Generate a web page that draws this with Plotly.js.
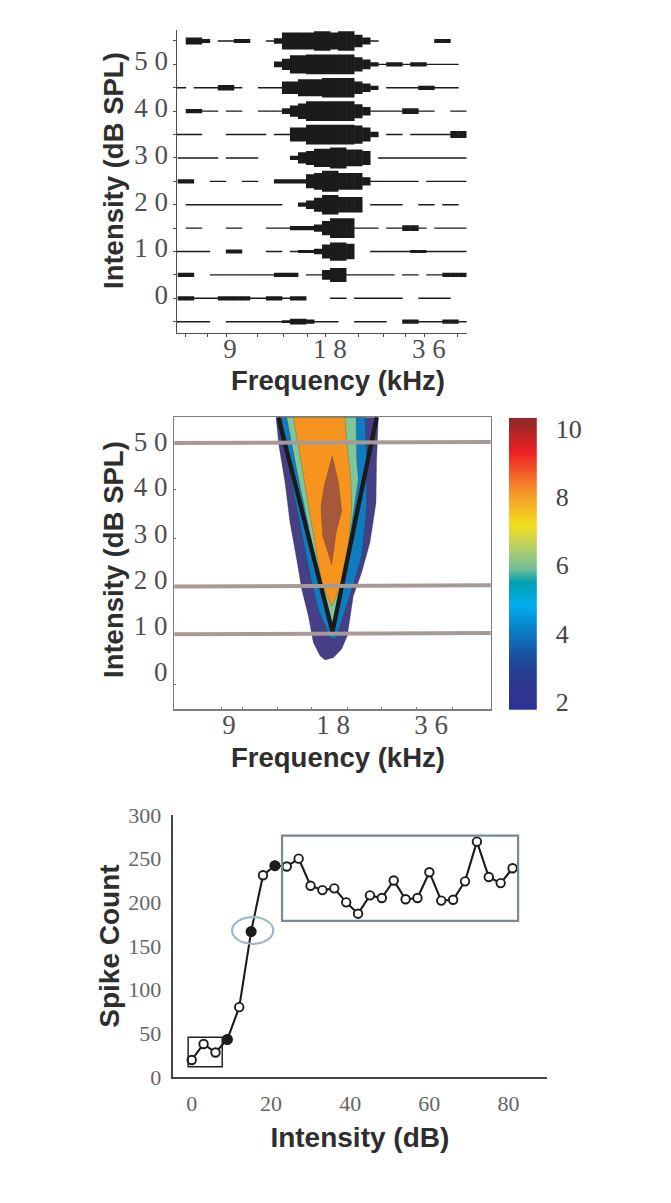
<!DOCTYPE html>
<html>
<head>
<meta charset="utf-8">
<script src="https://cdn.plot.ly/plotly-3.0.1.min.js"></script>
<style>html,body{margin:0;padding:0;background:#fff}</style>
</head>
<body>
<div id="chart" style="width:671px;height:1203px"></div>
<script>
// ---------- Top panel: spike raster-like frequency/intensity map ----------
const cellFreqKHz = [6.250,6.611,6.992,7.396,7.823,8.275,8.752,9.258,9.792,10.357,10.955,11.587,12.256,12.964,13.712,14.504,15.341,16.227,17.163,18.154,19.202,20.311,21.483,22.724,24.035,25.423,26.890,28.443,30.084,31.821,33.658,35.601,37.656,39.830,42.130,44.562,47.134];
const rowIntensity = [55,50,45,40,35,30,25,20,15,10,5,0,-5];
const row55 = [0,0,5,5,3,0,1,1,3,3,0,0,1,4,12,12,12,12,14,14,12,14,14,9,5,1,0,0,0,0,0,0,0,3,3,0,0];
const row50 = [0,0,0,0,0,0,0,0,0,0,0,0,0,4,8,13,13,14,14,14,14,14,14,10,7,3,1,3,3,1,3,3,1,1,1,1,0];
const row45 = [1,1,0,1,1,1,4,4,1,0,0,1,1,1,9,9,12,12,12,14,14,14,14,9,6,3,0,1,1,1,1,3,3,1,1,1,0];
const row40 = [0,0,3,3,1,1,0,1,1,0,0,1,1,1,4,8,11,14,14,14,14,14,14,10,6,1,1,1,1,4,4,1,1,0,0,1,1];
const row35 = [1,1,1,1,0,0,0,1,1,1,1,1,0,1,1,10,10,14,14,14,14,14,14,13,10,4,0,1,1,0,1,1,1,1,1,5,5];
const row30 = [0,1,1,1,1,1,0,1,1,1,1,0,0,0,0,3,8,10,13,13,15,15,12,12,10,0,1,1,1,1,1,1,1,1,1,1,1];
const row25 = [0,3,3,0,0,1,1,0,0,1,1,0,0,3,3,3,3,10,12,15,15,12,12,12,6,1,1,1,1,1,1,0,1,1,1,1,1];
const row20 = [0,0,1,1,1,1,1,1,1,1,1,1,1,1,0,0,3,6,10,14,14,11,11,11,0,1,1,1,1,0,0,1,1,0,1,1,0];
const row15 = [0,0,1,1,0,0,0,1,1,0,0,0,1,1,1,3,3,3,5,10,14,14,14,1,1,1,0,1,1,4,4,1,0,1,1,1,1];
const row10 = [1,1,1,1,1,0,0,3,3,0,0,0,1,1,0,1,2,2,4,10,13,13,11,0,0,1,1,1,1,1,2,2,1,1,1,1,1];
const row5  = [0,3,3,0,0,1,1,1,1,1,1,1,1,3,3,3,0,1,1,7,10,10,1,1,1,1,1,1,0,1,1,0,1,1,3,3,3];
const row0  = [0,3,3,1,1,1,3,3,3,3,1,1,3,3,1,3,3,0,0,0,1,1,0,1,1,1,1,1,1,0,0,1,1,1,1,0,0];
const rowM5 = [1,1,1,1,1,0,0,1,1,1,1,1,1,1,2,4,4,3,1,1,1,0,0,1,1,1,1,0,0,3,3,1,1,1,3,3,1];
const rasterRows = [row55,row50,row45,row40,row35,row30,row25,row20,row15,row10,row5,row0,rowM5];

// ---------- Middle panel: response area bands (octaves re 18 kHz, dB SPL) ----------
const outerOct = [-.564,-.535,-.475,-.426,-.36,-.31,-.244,-.195,-.129,-.079,.003,.086,.142,.201,.284,.366,.426,.432,.449];
const outerDb  = [55.3,49.3,41.6,33.3,25.6,19.3,13.7,8.2,5.4,4.5,5,6.8,9.6,17.9,22.8,29.1,37.4,46.5,55.3];
const blueOct  = [-.508,-.475,-.409,-.343,-.267,-.211,-.145,-.063,-.013,.036,.102,.218,.284,.333,.333,.317];
const blueDb   = [55.3,50,41.6,34.7,27,20.7,15.1,10.9,8.9,9.2,13.7,21.4,26.3,36.1,46.5,55.3];
const greenOct = [-.459,-.393,-.327,-.244,-.145,-.079,-.013,.036,.086,.201,.251,.234,.228];
const greenDb  = [55.3,47.9,40.9,32.6,22.1,15.1,11.6,13.4,19,34.7,42.3,46.5,55.3];
const orangeOct= [-.393,-.343,-.277,-.195,-.112,-.013,.069,.152,.185,.175,.135,.119];
const orangeDb = [55.3,49.3,40.9,31.2,20.7,15.7,19.7,29.1,36.1,43,50,55.3];
const brownOct = [-.007,-.079,-.119,-.102,-.013,.03,.086,.053];
const brownDb  = [47.2,41.6,36.7,30.5,24.5,31.2,35.7,41.6];
const tuningOct= [-.541,-.005,.432];
const tuningDb = [55.3,10.4,55.3];
const isoDb = [50,20,10];
const scaleLevels = [1.76,2,2.5,3,3.5,4,4.5,5,5.5,6,6.5,7,7.5,8,8.5,9,9.5,10,10.32];

// ---------- Bottom panel: rate-intensity function ----------
const intensityDb = [0,3,6,9,12,15,18,21,24,27,30,33,36,39,42,45,48,51,54,57,60,63,66,69,72,75,78,81];
const spikeCount  = [19.5,37.8,28,43,80,166.5,231,242,241,250,219,214,216,200,187,208,205,225,203.5,205,234.5,202,203,224,269.5,229,222,239];
const filledDb    = [9,15,21];
const filledCount = [43,166.5,242];

const W = 671, H = 1203;
const fx = px => px / W, fy = px => 1 - px / H;
const serif = "Liberation Serif, serif", sans = "Liberation Sans, Arial, sans-serif";
const tickGray = "#4f4f4f", titleCol = "#2e2e2e";

const cellX = cellFreqKHz.map(f => Math.log2(f / 18));
const barX = [], barH = [], barBase = [];
rasterRows.forEach((row, r) => row.forEach((v, i) => {
  if (v > 0) { barX.push(cellX[i]); barH.push(v * 0.3); barBase.push(rowIntensity[r] - v * 0.15); }
}));

const band = (x, y, color) => ({type:"scatter", mode:"lines", x:x.concat(x[0]), y:y.concat(y[0]), fill:"toself", fillcolor:color,
  line:{color:"rgba(40,40,40,0.45)", width:0.5}, xaxis:"x2", yaxis:"y2", hoverinfo:"skip", showlegend:false});

const traces = [
  {type:"bar", x:barX, y:barH, base:barBase, width:0.085, marker:{color:"#1d1a1a", line:{width:0}}, cliponaxis:false, xaxis:"x", yaxis:"y", hoverinfo:"skip", showlegend:false},
  band(outerOct, outerDb, "#453F85"),
  band(blueOct, blueDb, "#0F7CC0"),
  band(greenOct, greenDb, "#7FC79B"),
  band(orangeOct, orangeDb, "#F7941E"),
  band(brownOct, brownDb, "#A7573B"),
  {type:"scatter", mode:"lines", x:tuningOct, y:tuningDb, line:{color:"#1a1a1a", width:4.3}, xaxis:"x2", yaxis:"y2", hoverinfo:"skip", showlegend:false},
  ...isoDb.map(d => ({type:"scatter", mode:"lines", x:[-1.6,1.6], y:[d-0.1,d+0.15], line:{color:"#A69A95", width:4}, xaxis:"x2", yaxis:"y2", hoverinfo:"skip", showlegend:false})),
  {type:"heatmap", x:[0,1], y:scaleLevels, z:scaleLevels.map(v => [v,v]), zmin:1.76, zmax:10.32, zsmooth:"best", showscale:false, xaxis:"x3", yaxis:"y3", hoverinfo:"skip",
   colorscale:[[0,"#2E3192"],[0.11,"#2B3990"],[0.18,"#1B4F9C"],[0.27,"#0A7CC5"],[0.36,"#00AEEF"],[0.44,"#00A0B0"],[0.484,"#6DBE9A"],[0.553,"#B5CF6B"],[0.633,"#F2E01E"],[0.76,"#F58A2A"],[0.884,"#ED2024"],[1,"#8E2A2A"]]},
  {type:"scatter", mode:"lines+markers", x:intensityDb, y:spikeCount, line:{color:"#1c1c1c", width:2.1},
   marker:{size:8.5, color:"#ffffff", line:{color:"#1c1c1c", width:1.9}}, xaxis:"x4", yaxis:"y4", cliponaxis:false, hoverinfo:"skip", showlegend:false},
  {type:"scatter", mode:"markers", x:filledDb, y:filledCount, marker:{size:11, color:"#1c1c1c"}, xaxis:"x4", yaxis:"y4", cliponaxis:false, hoverinfo:"skip", showlegend:false}
];

const note = (text, x, y, angle) => ({text, xref:"paper", yref:"paper", x:fx(x), y:fy(y), xanchor:"center", yanchor:"middle", showarrow:false, textangle:angle||0,
  font:{family:sans, size:27.5, color:titleCol}});
const bold = s => "<b>" + s + "</b>";

const layout = {
  width:W, height:H, margin:{l:0,r:0,t:0,b:0,pad:0}, paper_bgcolor:"#fff", plot_bgcolor:"#fff", showlegend:false, barmode:"overlay",
  xaxis:{domain:[fx(176.7),fx(466.7)], range:[-1.498,1.431], anchor:"y", showgrid:false, zeroline:false, showline:true, linecolor:tickGray, linewidth:1.2,
    tickmode:"array", tickvals:[-0.96,0.05,1.05], ticktext:["9","1 8","3 6"], ticks:"", ticklabelstandoff:-9, tickfont:{family:serif,size:27,color:tickGray},
    minor:{tickmode:"array", tickvals:[-1.414,-1.192,-1,-.677,-.424,-.182,0,.343,.586,.808,1,1.333], ticks:"outside", ticklen:3, tickcolor:tickGray, tickwidth:1, showgrid:false}},
  yaxis:{domain:[fy(333),fy(30)], range:[-7.42,57.35], anchor:"x", showgrid:false, zeroline:false, showline:true, linecolor:tickGray, linewidth:1.2,
    tickmode:"array", tickvals:[50.75,40.75,30.75,20.75,10.75,0.75], ticktext:["5 0","4 0","3 0","2 0","1 0","0"], ticks:"", ticklabelstandoff:2, tickfont:{family:serif,size:27,color:tickGray},
    minor:{tickmode:"array", tickvals:rowIntensity, ticks:"outside", ticklen:3, tickcolor:tickGray, tickwidth:1, showgrid:false}},
  xaxis2:{domain:[fx(174.3),fx(490.7)], range:[-1.571,1.561], anchor:"y2", showgrid:false, zeroline:false, showline:true, mirror:true, linecolor:"#7d7d7d", linewidth:1.5,
    tickmode:"array", tickvals:[-1.03,0,0.97], ticktext:["9","1 8","3 6"], ticks:"", ticklabelstandoff:-9, tickfont:{family:serif,size:27,color:tickGray},
    minor:{tickmode:"array", tickvals:[-1.10,-.891,-.55,-.208,.139,.482,.825,1.182], ticks:"inside", ticklen:2, tickcolor:"#777", tickwidth:1, showgrid:false}},
  yaxis2:{domain:[fy(709.3),fy(417.3)], range:[-5.8,55.3], anchor:"x2", showgrid:false, zeroline:false, showline:true, mirror:true, linecolor:"#7d7d7d", linewidth:1.5,
    tickmode:"array", tickvals:[50.3,40.9,31,21.4,11.8,2], ticktext:["5 0","4 0","3 0","2 0","1 0","0"], ticks:"", ticklabelstandoff:0, tickfont:{family:serif,size:27,color:tickGray},
    minor:{tickmode:"array", tickvals:[40.2,30,-0.6], ticks:"inside", ticklen:2, tickcolor:"#777", tickwidth:1, showgrid:false}},
  xaxis3:{domain:[fx(509),fx(536.8)], range:[0,1], anchor:"y3", showgrid:false, zeroline:false, showline:false, showticklabels:false, ticks:""},
  yaxis3:{domain:[fy(710),fy(417.7)], range:[1.76,10.32], anchor:"x3", side:"right", showgrid:false, zeroline:false, showline:false,
    tickmode:"array", tickvals:[2,4,6,8,10], ticks:"", ticklabelstandoff:18, tickfont:{family:serif,size:26,color:"#444"}},
  xaxis4:{domain:[fx(172.7),fx(547)], range:[-4.8,89.7], anchor:"y4", showgrid:false, zeroline:false, showline:true, linecolor:"#444", linewidth:2,
    tickmode:"array", tickvals:[0,20,40,60,80], ticks:"", ticklabelstandoff:6, tickfont:{family:serif,size:22,color:"#666"},
    title:{text:bold("Intensity (dB)"), standoff:12, font:{family:sans,size:28,color:titleCol}}},
  yaxis4:{domain:[fy(1077),fy(815)], range:[0,300], anchor:"x4", showgrid:false, zeroline:false, showline:true, linecolor:"#444", linewidth:2,
    tickmode:"array", tickvals:[0,50,100,150,200,250,300], ticks:"", ticklabelstandoff:5, tickfont:{family:serif,size:22,color:"#666"},
    title:{text:bold("Spike Count"), standoff:0, font:{family:sans,size:28,color:titleCol}}},
  shapes:[
    {type:"rect", xref:"x4", yref:"y4", x0:-0.9, x1:7.7, y0:11.8, y1:45.5, line:{color:"#222", width:1.5}},
    {type:"rect", xref:"x4", yref:"y4", x0:22.8, x1:82.4, y0:178.7, y1:276.4, line:{color:"#76879A", width:2.2}},
    {type:"circle", xref:"x4", yref:"y4", x0:10.2, x1:20.6, y0:152.5, y1:183, line:{color:"#9DB8C8", width:2.2}}
  ],
  annotations:[
    note(bold("Intensity (dB SPL)"), 113, 171, -90),
    note(bold("Frequency (kHz)"), 338, 380),
    note(bold("Intensity (dB SPL)"), 113, 560, -90),
    note(bold("Frequency (kHz)"), 338, 757)
  ]
};
Plotly.newPlot("chart", traces, layout, {displayModeBar:false, staticPlot:true});
</script>
</body>
</html>
